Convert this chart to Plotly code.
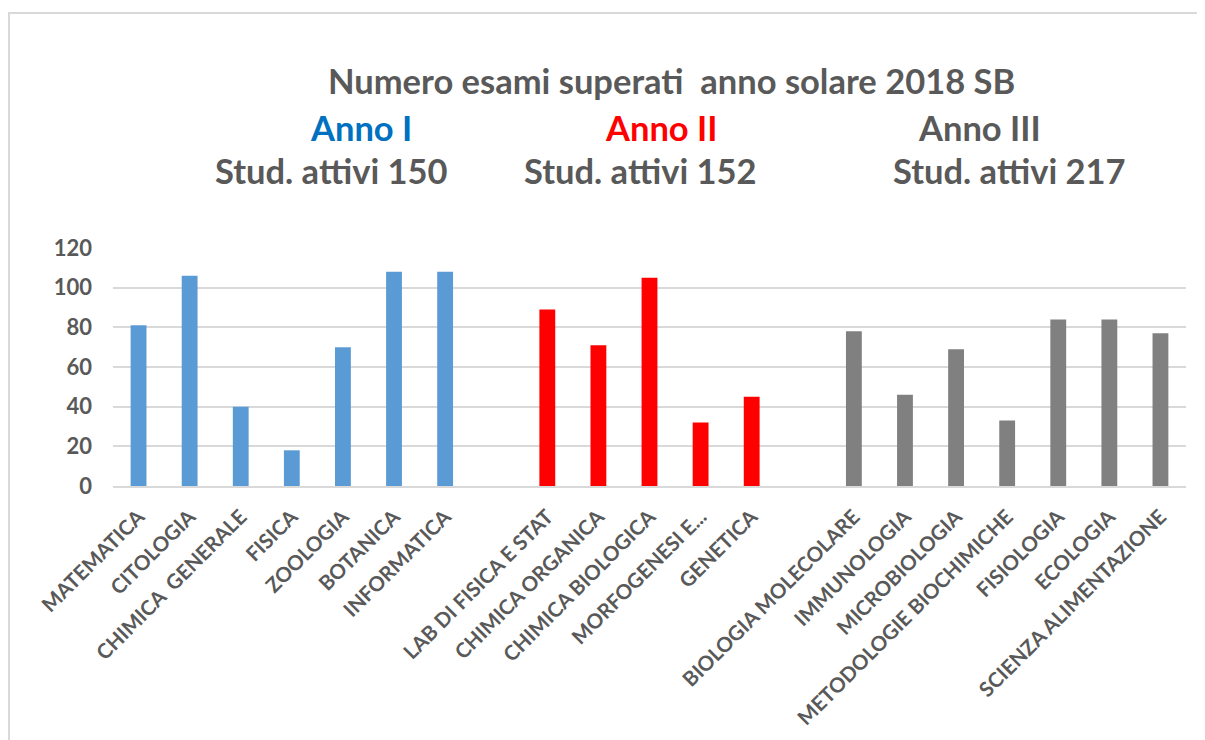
import plotly.graph_objects as go

# ---- data ----
anno1_labels = ["MATEMATICA", "CITOLOGIA", "CHIMICA  GENERALE", "FISICA", "ZOOLOGIA", "BOTANICA", "INFORMATICA"]
anno1_values = [81, 106, 40, 18, 70, 108, 108]

anno2_labels = ["LAB DI FISICA E STAT", "CHIMICA ORGANICA", "CHIMICA BIOLOGICA", "MORFOGENESI E...", "GENETICA"]
anno2_values = [89, 71, 105, 32, 45]

anno3_labels = ["BIOLOGIA MOLECOLARE", "IMMUNOLOGIA", "MICROBIOLOGIA", "METODOLOGIE BIOCHIMICHE",
                "FISIOLOGIA", "ECOLOGIA", "SCIENZA ALIMENTAZIONE"]
anno3_values = [78, 46, 69, 33, 84, 84, 77]

gap_slots = [" ", "  "]  # empty category slots between the years
category_order = anno1_labels + [gap_slots[0]] + anno2_labels + [gap_slots[1]] + anno3_labels

y_ticks = [0, 20, 40, 60, 80, 100, 120]

title_main = "Numero esami superati  anno solare 2018 SB"
year_titles = ["Anno I", "Anno II", "Anno III"]
year_students = ["Stud. attivi 150", "Stud. attivi 152", "Stud. attivi 217"]
year_colors = ["#0070C0", "#FF0000", "#595959"]

FONT = "Lato"
TXT = "#595959"

fig = go.Figure()
fig.add_trace(go.Bar(x=anno1_labels, y=anno1_values, marker_color="#5B9BD5", marker_line_width=0, name="Anno I"))
fig.add_trace(go.Bar(x=anno2_labels, y=anno2_values, marker_color="#FF0000", marker_line_width=0, name="Anno II"))
fig.add_trace(go.Bar(x=anno3_labels, y=anno3_values, marker_color="#808080", marker_line_width=0, name="Anno III"))

# page body adds an 8px offset; work in page coordinates and convert
OFF = 8
W, H = 1205 - OFF, 740 - OFF
plot_left, plot_right, plot_top, plot_bottom = 113, 1186, 248, 486  # page pixels
L = plot_left - OFF
R = W - (plot_right - OFF)
T = plot_top - OFF
B = H - (plot_bottom - OFF)
pw, ph = W - L - R, H - T - B

def px_x(x):
    return (x - OFF - L) / pw

def px_y(y):
    return (H - B - (y - OFF)) / ph

TS = 34.5
annotations = []
annotations.append(dict(text=title_main, x=px_x(671), y=px_y(80), xref="paper", yref="paper",
                        showarrow=False, xanchor="center", yanchor="middle",
                        font=dict(family=FONT, size=TS, color=TXT, weight="bold")))
year_x = [361, 661, 979]
stud_x = [331, 640, 1009]
for i in range(3):
    annotations.append(dict(text=year_titles[i], x=px_x(year_x[i]), y=px_y(127), xref="paper", yref="paper",
                            showarrow=False, xanchor="center", yanchor="middle",
                            font=dict(family=FONT, size=TS, color=year_colors[i], weight="bold")))
    annotations.append(dict(text=year_students[i], x=px_x(stud_x[i]), y=px_y(170), xref="paper", yref="paper",
                            showarrow=False, xanchor="center", yanchor="middle",
                            font=dict(family=FONT, size=TS, color=TXT, weight="bold")))

fig.update_layout(
    width=W, height=H,
    margin=dict(l=L, r=R, t=T, b=B, autoexpand=False),
    plot_bgcolor="white", paper_bgcolor="white",
    barmode="relative", bargap=0.69,
    showlegend=False,
    annotations=annotations,
    shapes=[dict(type="rect", xref="paper", yref="paper",
                 x0=px_x(9), x1=px_x(1230), y0=px_y(780), y1=px_y(13),
                 line=dict(color="#D9D9D9", width=2), fillcolor="rgba(0,0,0,0)", layer="below")],
)
fig.update_xaxes(type="category", categoryorder="array", categoryarray=category_order,
                 range=[-0.5, len(category_order) - 0.5],
                 tickangle=-45, showgrid=False, showline=True, linecolor="#D9D9D9", linewidth=1.5,
                 ticks="", ticklabelstandoff=9,
                 tickfont=dict(family=FONT, size=20.5, color=TXT, weight="bold"),
                 automargin=False)
fig.update_yaxes(range=[0, 120], tickvals=y_ticks, showgrid=True, gridcolor="#D9D9D9", gridwidth=1.5,
                 zeroline=False, showline=False, ticks="", ticklabelstandoff=20,
                 tickfont=dict(family=FONT, size=22, color=TXT, weight="bold"), automargin=False)

fig.write_html("out.html")
